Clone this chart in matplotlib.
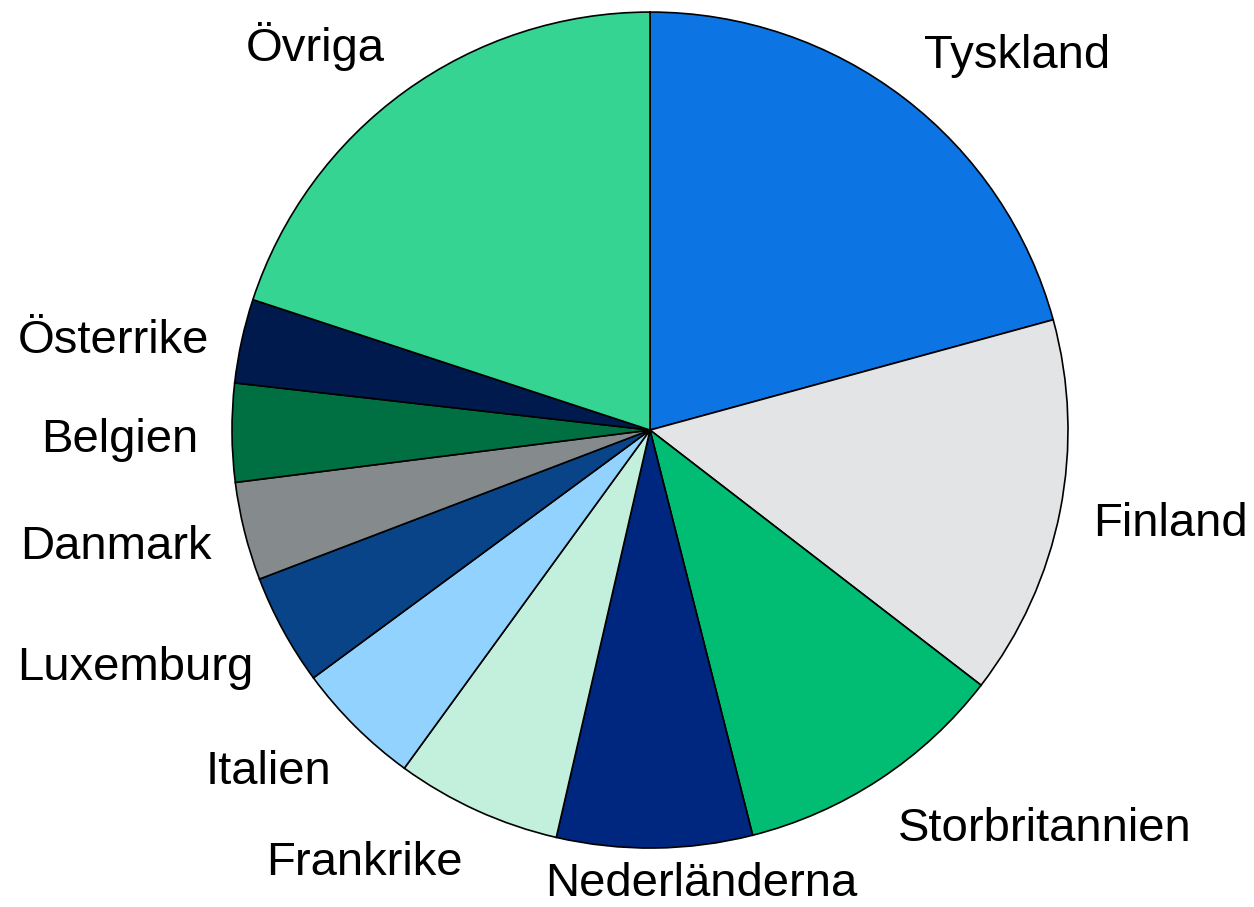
import numpy as np
import matplotlib
matplotlib.use("Agg")
import matplotlib.pyplot as plt
from matplotlib.transforms import Affine2D

# Andel per land (procent)
countries = ["Tyskland", "Finland", "Storbritannien", "Nederländerna", "Frankrike",
             "Italien", "Luxemburg", "Danmark", "Belgien", "Österrike", "Övriga"]
shares = [20.75, 14.7, 10.6, 7.55, 6.4, 4.9, 4.3, 3.8, 3.8, 3.25, 19.95]
colors = ["#0C74E3", "#E2E4E6", "#00BD73", "#002780", "#C3F0DD", "#91D3FE",
          "#084487", "#858A8D", "#006F41", "#001A4E", "#35D492"]

plt.rcParams["font.family"] = ["Liberation Sans", "DejaVu Sans"]

fig = plt.figure(figsize=(12.54, 9.07), dpi=100)
ax = fig.add_axes([0.185, 0.065, 0.6667, 0.9217])

wedges, _ = ax.pie(shares, colors=colors, startangle=90, counterclock=False,
                   radius=1.0,
                   wedgeprops=dict(edgecolor="black", linewidth=1.2))
ax.set_xlim(-1, 1)
ax.set_ylim(-1, 1)
ax.set_aspect("equal")
ax.axis("off")

# Etiketter utanför varje sektor, förankrade vid sektorns mittvinkel
label_r = 1.08
texts = []
for w, name in zip(wedges, countries):
    mid = np.deg2rad((w.theta1 + w.theta2) / 2)
    c, s = np.cos(mid), np.sin(mid)
    ha = "left" if c > 0.3 else ("right" if c < -0.3 else "center")
    va = "bottom" if s > 0.3 else ("top" if s < -0.3 else "center")
    t = ax.text(label_r * c, label_r * s, name, ha=ha, va=va, fontsize=34,
                clip_on=False)
    shift_y = 0 if va == "top" else -7
    t.set_transform(ax.transData + Affine2D().translate(0, shift_y))
    texts.append(t)

# Håll etiketter som hamnar utanför figuren inom kanten
fig.canvas.draw()
renderer = fig.canvas.get_renderer()
for t in texts:
    bb = t.get_window_extent(renderer)
    if bb.y0 < 0:
        t.set_transform(ax.transData + Affine2D().translate(46, -bb.y0 + 1))

fig.savefig("out.png", dpi=100, facecolor="white")
